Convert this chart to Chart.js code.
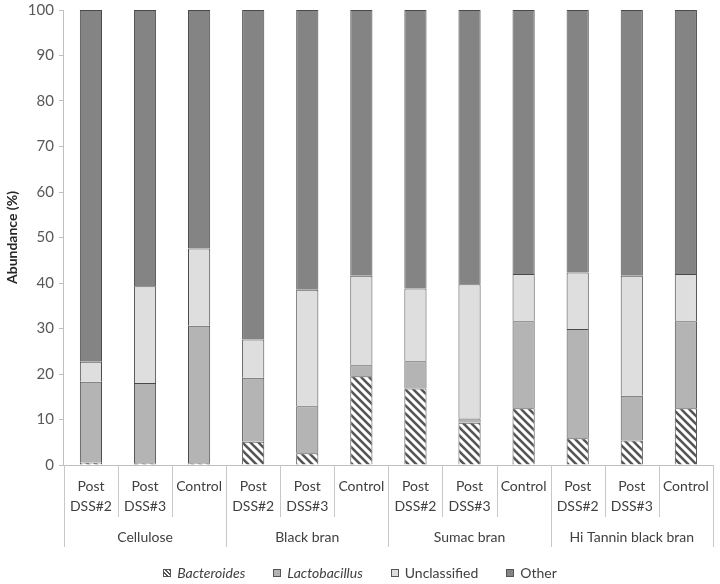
<!DOCTYPE html>
<html>
<head>
<meta charset="utf-8">
<script src="https://cdn.jsdelivr.net/npm/chart.js@4.4.1/dist/chart.umd.min.js"></script>
<style>
  html, body { margin: 0; padding: 0; background: #fff; }
  #wrap { position: relative; width: 720px; height: 584px; }
  #legend {
    position: absolute; left: 0; top: 563px; width: 720px; height: 20px;
    display: flex; justify-content: center; gap: 28px;
    font: 14px Lato, sans-serif; color: #404040; line-height: 20px;
  }
  #legend span.item { display: flex; align-items: center; }
  #legend i.box { display: inline-block; width: 6px; height: 6px; border: 1px solid #555; margin-right: 6px; }
</style>
</head>
<body>
<div id="wrap">
  <canvas id="chart" width="720" height="584"></canvas>
  <div id="legend"></div>
</div>
<script>
const groups = ['Cellulose', 'Black bran', 'Sumac bran', 'Hi Tannin black bran'];
const samples = [
  ['Post', 'DSS#2'], ['Post', 'DSS#3'], 'Control',
  ['Post', 'DSS#2'], ['Post', 'DSS#3'], 'Control',
  ['Post', 'DSS#2'], ['Post', 'DSS#3'], 'Control',
  ['Post', 'DSS#2'], ['Post', 'DSS#3'], 'Control'
];
const bacteroides   = [0.5, 0.4, 0.4, 5.1, 2.6, 19.5, 16.8, 9.3, 12.5, 5.9, 5.4, 12.5];
const lactobacillus = [17.8, 17.6, 30.2, 14.1, 10.3, 2.4, 6.0, 0.9, 19.1, 24.0, 9.8, 19.1];
const unclassified  = [4.4, 21.3, 17.0, 8.4, 25.6, 19.7, 16.0, 29.5, 10.4, 12.4, 26.4, 10.4];
const other         = [77.3, 60.7, 52.4, 72.4, 61.5, 58.4, 61.2, 60.3, 58.0, 57.7, 58.4, 58.0];
const yTicks = [0, 10, 20, 30, 40, 50, 60, 70, 80, 90, 100];

// diagonal hatch for Bacteroides
function hatch() {
  const c = document.createElement('canvas');
  c.width = 8; c.height = 8;
  const g = c.getContext('2d');
  g.fillStyle = '#fff';
  g.fillRect(0, 0, 8, 8);
  g.strokeStyle = '#555';
  g.lineWidth = 2.6;
  g.beginPath();
  g.moveTo(-2, -2); g.lineTo(10, 10);
  g.moveTo(-2, 6); g.lineTo(2, 10);
  g.moveTo(6, -2); g.lineTo(10, 2);
  g.stroke();
  return g.createPattern(c, 'repeat');
}

const series = [
  { label: 'Bacteroides', data: bacteroides, color: hatch(), css: 'repeating-linear-gradient(45deg,#fff 0 1.5px,#555 1.5px 3px)', italic: true },
  { label: 'Lactobacillus', data: lactobacillus, color: '#b4b4b4', css: '#b4b4b4', italic: true },
  { label: 'Unclassified', data: unclassified, color: '#dedede', css: '#dedede' },
  { label: 'Other', data: other, color: '#848484', css: '#848484' }
];

// vertical separators between sample labels and between groups
const separators = {
  id: 'separators',
  afterDraw(chart) {
    const x = chart.scales.x, x2 = chart.scales.x2;
    const ctx = chart.ctx;
    ctx.save();
    ctx.strokeStyle = '#c8c8c8';
    ctx.lineWidth = 1;
    for (let i = 0; i <= samples.length; i++) {
      const px = Math.round(x.getPixelForValue(i - 0.5)) + 0.5;
      const bottom = i % 3 === 0 ? x2.bottom - 2 : x.bottom;
      ctx.beginPath();
      ctx.moveTo(px, x.top);
      ctx.lineTo(px, bottom);
      ctx.stroke();
    }
    ctx.restore();
  }
};

Chart.defaults.font.family = 'Lato, sans-serif';

new Chart(document.getElementById('chart'), {
  type: 'bar',
  data: {
    labels: samples,
    datasets: series.map(s => ({
      label: s.label,
      data: s.data,
      backgroundColor: s.color,
      borderColor: '#4a4a4a',
      borderWidth: 1,
      categoryPercentage: 1,
      barPercentage: 0.41
    }))
  },
  options: {
    responsive: false,
    animation: false,
    layout: { padding: { top: 10, right: 4, bottom: 35, left: 4 } },
    plugins: { legend: { display: false }, tooltip: { enabled: false } },
    scales: {
      x: {
        stacked: true,
        grid: { display: false, drawTicks: false },
        border: { color: '#bfbfbf' },
        afterFit: axis => { axis.height = 52; },
        ticks: { padding: 11, maxRotation: 0, autoSkip: false, color: '#404040', font: { size: 14, lineHeight: 1.43 } }
      },
      x2: {
        type: 'category',
        labels: groups,
        position: 'bottom',
        offset: true,
        weight: 1,
        grid: { display: false, drawTicks: false },
        border: { display: false },
        afterFit: axis => { axis.height = 32; },
        ticks: { padding: 10, maxRotation: 0, color: '#404040', font: { size: 14, lineHeight: 1.43 } }
      },
      y: {
        stacked: true,
        min: 0,
        max: 100,
        afterBuildTicks: axis => { axis.ticks = yTicks.map(v => ({ value: v })); },
        afterFit: axis => { axis.paddingTop = 0; },
        grid: { drawOnChartArea: false, tickLength: 5, color: '#bfbfbf' },
        border: { color: '#bfbfbf' },
        ticks: { color: '#595959', font: { size: 15 }, padding: 5 },
        title: { display: true, text: 'Abundance (%)', color: '#262626', font: { size: 14, weight: 'bold' }, padding: { top: 0, bottom: 2 } }
      }
    }
  },
  plugins: [separators]
});

const legend = document.getElementById('legend');
series.forEach(s => {
  const item = document.createElement('span');
  item.className = 'item';
  const box = document.createElement('i');
  box.className = 'box';
  box.style.background = s.css;
  const txt = document.createElement('span');
  txt.textContent = s.label;
  if (s.italic) txt.style.fontStyle = 'italic';
  item.appendChild(box);
  item.appendChild(txt);
  legend.appendChild(item);
});
</script>
</body>
</html>
